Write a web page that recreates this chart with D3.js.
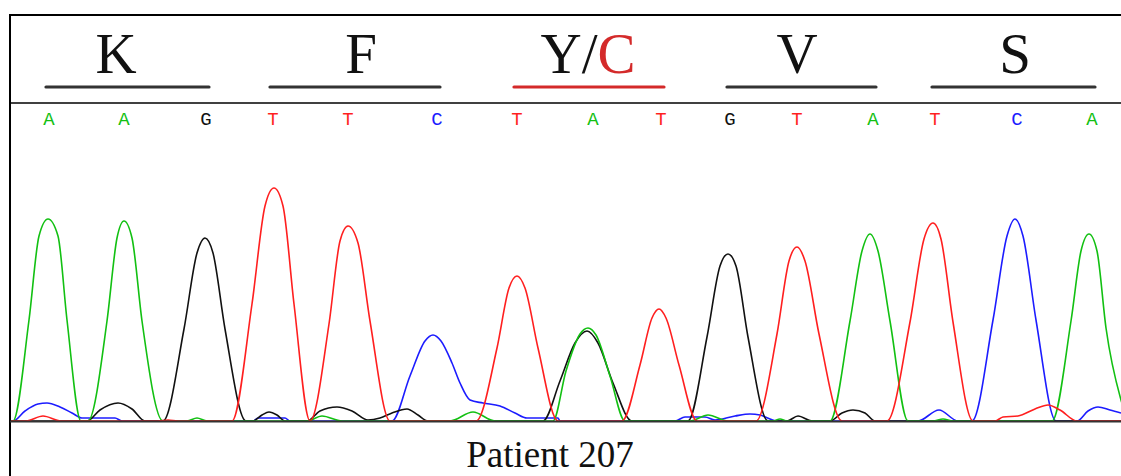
<!DOCTYPE html>
<html>
<head>
<meta charset="utf-8">
<script src="https://cdn.jsdelivr.net/npm/d3@7"></script>
<style>
  html, body { margin: 0; padding: 0; background: #fff; }
  svg { display: block; }
</style>
</head>
<body>
<svg id="chart" width="1121" height="476"></svg>
<script>
// Base calls and their scan positions
const baseCalls = ["A","A","G","T","T","C","T","A","T","G","T","A","T","C","A"];
const basePositions = [39,114,196,263,338,427,507,583,651,720,787,863,925,1007,1082];

// Codons: amino acid label(s) and the index of the first base of each codon
const aminoLabels = [["K"], ["F"], ["Y", "C"], ["V"], ["S"]];
const codonStart = [0, 3, 6, 9, 12];

// Trace signal per dye channel: [scan, intensity]
const traceA = [
  [1,0],[3,0],[19,505],[29,925],[38,1010],[48,925],[57,505],[71,0],[78,0],[97,500],[107,915],[114,1000],
  [122,915],[132,500],[153,0],[177,0],[187,15],[197,0],[297,0],[312,25],[332,0],[440,0],[463,45],[485,0],
  [543,0],[556,250],[570,435],[578,465],[586,430],[600,225],[615,0],[680,0],[698,30],[718,0],[763,0],
  [770,10],[777,0],[820,0],[840,500],[852,850],[860,935],[868,850],[880,500],[898,0],[923,0],[933,10],
  [943,0],[1042,0],[1061,500],[1071,850],[1079,935],[1087,850],[1096,465],[1111,105],[1118,0]
];
const traceT = [
  [1,0],[16,0],[33,25],[51,0],[148,0],[158,5],[168,0],[222,0],[242,585],[255,1075],[264,1165],[273,1075],
  [284,585],[300,0],[319,485],[330,900],[338,975],[348,890],[360,500],[380,0],[466,0],[487,365],[499,665],
  [507,725],[515,665],[528,365],[548,0],[612,0],[630,280],[642,515],[649,560],[656,515],[669,280],[687,0],
  [746,0],[767,435],[779,800],[787,870],[795,800],[809,435],[832,0],[877,0],[900,495],[914,910],[923,990],
  [931,910],[943,495],[963,0],[985,0],[993,20],[1008,25],[1025,60],[1038,80],[1050,55],[1067,0],[1111,0]
];
const traceC = [
  [1,0],[3,0],[15,50],[28,85],[37,90],[50,70],[62,40],[72,15],[105,15],[112,0],[243,0],[248,15],[275,15],
  [280,0],[382,0],[400,225],[415,400],[423,430],[431,400],[442,290],[450,190],[460,105],[473,90],[490,75],
  [505,40],[517,15],[548,15],[550,0],[665,0],[675,20],[695,20],[705,5],[725,25],[740,35],[750,30],[760,10],
  [767,0],[908,0],[929,55],[948,0],[962,0],[983,505],[997,925],[1005,1010],[1013,925],[1026,505],[1046,0],
  [1067,0],[1078,50],[1088,70],[1100,55],[1111,40]
];
const traceG = [
  [1,0],[77,0],[90,55],[108,90],[122,60],[135,0],[153,0],[174,460],[187,840],[195,915],[203,840],[215,460],
  [236,0],[243,0],[252,30],[259,45],[267,30],[275,0],[297,0],[310,50],[327,70],[342,50],[358,5],[370,15],
  [382,40],[397,60],[408,30],[418,0],[533,0],[550,200],[565,390],[577,450],[588,390],[603,190],[622,0],
  [678,0],[697,420],[710,775],[718,835],[726,775],[738,420],[758,0],[777,0],[788,25],[802,0],[820,0],
  [832,40],[843,55],[855,40],[865,0],[1111,0]
];

const dyeColor = { A: "#12c012", C: "#1c1cff", G: "#111111", T: "#ff1f1f" };
const mutantColor = "#d42a2a";

const W = 1121, H = 476;
const frame = { left: 10, top: 15, divider: 103, baseline: 421 };
// Horizontal nudges (px) for the amino acid letters above each codon bar
const aaNudge = [-8, 13, -5, 0, -2];

const svg = d3.select("#chart");

const x = d3.scaleLinear().domain([0, 1111]).range([frame.left, W]);
const y = d3.scaleLinear().domain([0, 1600]).range([frame.baseline, frame.baseline - 320]);

// Frame lines
svg.append("line").attr("x1", frame.left).attr("x2", W).attr("y1", frame.top).attr("y2", frame.top)
  .attr("stroke", "#000").attr("stroke-width", 2);
svg.append("line").attr("x1", frame.left).attr("x2", W).attr("y1", frame.divider).attr("y2", frame.divider)
  .attr("stroke", "#000").attr("stroke-width", 1.6);
svg.append("line").attr("x1", frame.left).attr("x2", frame.left).attr("y1", frame.top - 1).attr("y2", H)
  .attr("stroke", "#000").attr("stroke-width", 2);

// Codon underlines and amino acid labels
const codons = aminoLabels.map((labels, i) => ({
  labels,
  first: basePositions[codonStart[i]],
  mid: basePositions[codonStart[i] + 1],
  last: basePositions[codonStart[i] + 2],
  nudge: aaNudge[i],
  mutant: labels.length > 1
}));

const codonG = svg.append("g");
codonG.selectAll("line").data(codons).join("line")
  .attr("x1", d => x(d.first) - 3)
  .attr("x2", d => x(d.last) + 3)
  .attr("y1", 87).attr("y2", 87)
  .attr("stroke", d => d.mutant ? mutantColor : "#333")
  .attr("stroke-width", 3.2)
  .attr("stroke-linecap", "round");

const aaText = codonG.selectAll("text").data(codons).join("text")
  .attr("x", d => x(d.mid) + d.nudge)
  .attr("y", 73)
  .attr("text-anchor", "middle")
  .attr("font-family", "'Liberation Serif', 'Times New Roman', serif")
  .attr("font-size", 57)
  .attr("fill", "#111");
aaText.each(function(d) {
  const t = d3.select(this);
  d.labels.forEach((lab, j) => {
    if (j > 0) t.append("tspan").text("/").attr("fill", "#111");
    t.append("tspan").text(lab).attr("fill", j > 0 ? mutantColor : "#111");
  });
});

// Base call letters
svg.append("g").selectAll("text").data(baseCalls).join("text")
  .attr("x", (d, i) => x(basePositions[i]))
  .attr("y", 125)
  .attr("text-anchor", "middle")
  .attr("font-family", "'Liberation Mono', 'Courier New', monospace")
  .attr("font-size", 19)
  .attr("fill", d => dyeColor[d])
  .text(d => d);

// Trace area clip
svg.append("clipPath").attr("id", "plotClip")
  .append("rect").attr("x", frame.left + 1).attr("y", frame.divider + 1)
  .attr("width", W - frame.left - 1).attr("height", frame.baseline - frame.divider);

const line = d3.line()
  .x(d => x(d[0]))
  .y(d => y(d[1]))
  .curve(d3.curveMonotoneX);

const traces = [
  { dye: "C", values: traceC },
  { dye: "G", values: traceG },
  { dye: "A", values: traceA },
  { dye: "T", values: traceT }
];

svg.append("g").attr("clip-path", "url(#plotClip)")
  .selectAll("path").data(traces).join("path")
  .attr("d", d => line(d.values))
  .attr("fill", "none")
  .attr("stroke", d => dyeColor[d.dye])
  .attr("stroke-width", 1.6)
  .attr("stroke-linejoin", "round");

// Baseline
svg.append("line").attr("x1", frame.left).attr("x2", W).attr("y1", frame.baseline + 0.5).attr("y2", frame.baseline + 0.5)
  .attr("stroke", "#333").attr("stroke-width", 2);

// Sample caption
svg.append("text")
  .attr("x", 550).attr("y", 467)
  .attr("text-anchor", "middle")
  .attr("font-family", "'Liberation Serif', 'Times New Roman', serif")
  .attr("font-size", 37)
  .attr("fill", "#111")
  .text("Patient 207");
</script>
</body>
</html>
